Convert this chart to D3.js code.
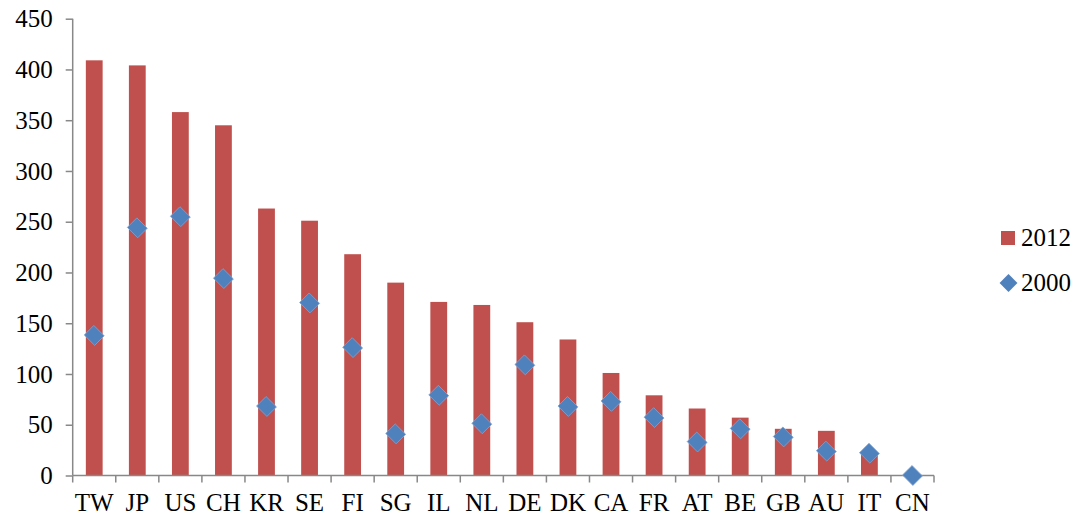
<!DOCTYPE html>
<html>
<head>
<meta charset="utf-8">
<script src="https://cdn.jsdelivr.net/npm/d3@7"></script>
<style>
  body { margin: 0; background: #fff; }
</style>
</head>
<body>
<div id="chart"></div>
<script>
// Data
var countries = ["TW", "JP", "US", "CH", "KR", "SE", "FI", "SG", "IL", "NL",
                 "DE", "DK", "CA", "FR", "AT", "BE", "GB", "AU", "IT", "CN"];
var values2012 = [409, 404, 358, 345, 263, 251, 218, 190, 171, 168,
                  151, 134, 101, 79, 66, 57, 46, 44, 21, 0];
var values2000 = [138, 244, 255, 194, 68, 170, 126, 41, 79, 51,
                  109, 68, 73, 57, 33, 46, 38, 24, 22, 0];
var yTicks = [0, 50, 100, 150, 200, 250, 300, 350, 400, 450];

var svgWidth = 1079, svgHeight = 524;
var margin = { top: 18.7, left: 72.7 };
var width = 934 - margin.left;
var height = 475.5 - margin.top;
var fontFamily = "'Liberation Serif', 'Times New Roman', serif";

var svg = d3.select("#chart").append("svg")
  .attr("width", svgWidth)
  .attr("height", svgHeight)
  .attr("font-family", fontFamily);

var chartGroup = svg.append("g")
  .attr("transform", `translate(${margin.left}, ${margin.top})`);

var xScale = d3.scaleBand().domain(countries).range([0, width]).paddingInner(0.61).paddingOuter(0.305);
var xBand = d3.scaleBand().domain(countries).range([0, width]);
var yScale = d3.scaleLinear().domain([0, 450]).range([height, 0]);

// bars (2012)
chartGroup.selectAll("rect.bar")
  .data(countries)
  .enter()
  .append("rect")
  .attr("class", "bar")
  .attr("x", function (d) { return xScale(d); })
  .attr("width", xScale.bandwidth())
  .attr("y", function (d, i) { return yScale(values2012[i]); })
  .attr("height", function (d, i) { return height - yScale(values2012[i]); })
  .attr("fill", "#C0504D");

// y axis
var yAxis = d3.axisLeft(yScale).tickValues(yTicks).tickSize(7).tickPadding(13);
var yG = chartGroup.append("g").call(yAxis)
  .attr("font-family", fontFamily).attr("font-size", 25);
yG.selectAll("text").attr("fill", "#000").attr("dy", "0.33em");

// x axis
var xAxis = d3.axisBottom(xBand).tickSize(0).tickPadding(14);
var xG = chartGroup.append("g")
  .attr("transform", `translate(0,${height})`)
  .call(xAxis)
  .attr("font-family", fontFamily).attr("font-size", 25);
xG.selectAll("text").attr("fill", "#000").attr("dy", "0.86em");
// boundary tick marks between categories
xG.selectAll("line.sep")
  .data(d3.range(countries.length + 1))
  .enter()
  .append("line")
  .attr("class", "sep")
  .attr("x1", function (d) { return d * xBand.step(); })
  .attr("x2", function (d) { return d * xBand.step(); })
  .attr("y1", 0)
  .attr("y2", 7);

svg.selectAll(".domain, .tick line, line.sep")
  .attr("stroke", "#888")
  .attr("stroke-width", 1.5);
xG.select(".domain").attr("d", `M0,0H${width}`);
yG.select(".domain").attr("d", `M0,${height}V0`);

// diamonds (2000)
var diamond = d3.symbol().type(d3.symbolSquare).size(215);
chartGroup.selectAll("path.pt")
  .data(countries)
  .enter()
  .append("path")
  .attr("class", "pt")
  .attr("d", diamond)
  .attr("transform", function (d, i) {
    return `translate(${xBand(d) + xBand.bandwidth() / 2},${yScale(values2000[i])}) rotate(45) scale(1,0.92)`;
  })
  .attr("fill", "#4F81BD")
  .attr("stroke", "#7FA3D3")
  .attr("stroke-width", 0.8);

// legend
var legend = svg.append("g").attr("font-size", 25);
legend.append("rect")
  .attr("x", 1001).attr("y", 231)
  .attr("width", 14).attr("height", 14)
  .attr("fill", "#C0504D");
legend.append("text")
  .attr("x", 1021).attr("y", 246)
  .text("2012");
legend.append("path")
  .attr("d", d3.symbol().type(d3.symbolSquare).size(160))
  .attr("transform", "translate(1008.5,283) rotate(45)")
  .attr("fill", "#4F81BD");
legend.append("text")
  .attr("x", 1021).attr("y", 291)
  .text("2000");
</script>
</body>
</html>
